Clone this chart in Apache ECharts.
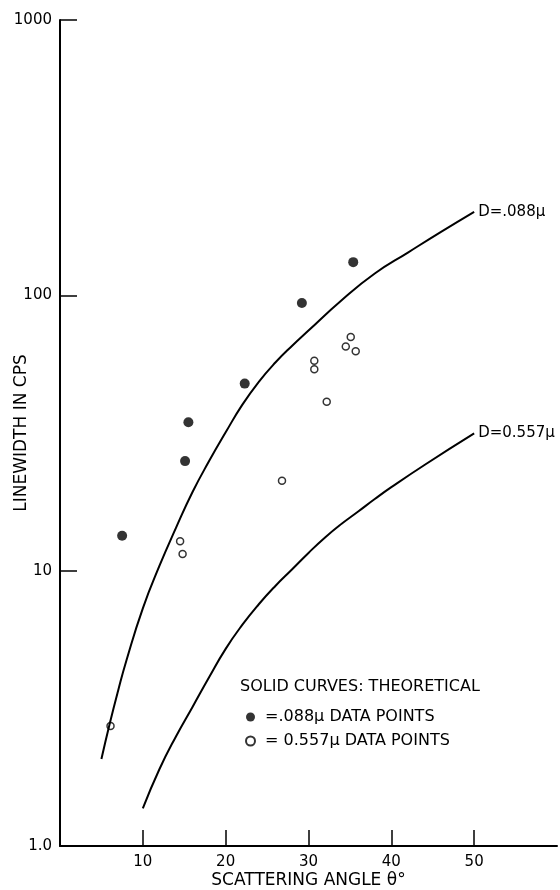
<html>
<head>
<meta charset="utf-8">
<script src="https://cdn.jsdelivr.net/npm/echarts@6/dist/echarts.min.js"></script>
<style>
  body { margin: 0; background: #fff; }
  #main { width: 560px; height: 890px; }
</style>
</head>
<body>
<div id="main"></div>
<script>
// data (angle in degrees, linewidth in cps)
var pts088 = [[7.5, 13.4], [15.1, 25.0], [15.5, 34.6], [22.3, 47.8], [29.2, 93.8], [35.4, 132]];
var pts557 = [[6.1, 2.73], [14.5, 12.8], [14.8, 11.5], [26.8, 21.2], [30.7, 57.9], [30.7, 53.9],
              [32.2, 41.1], [34.5, 65.2], [35.1, 70.6], [35.7, 62.6]];
// theoretical curves, D = .088 micron and D = 0.557 micron
var curve088 = [[5, 2.07], [6, 2.78], [7, 3.65], [8, 4.7], [10, 7.3], [12, 10.4], [14, 14.3],
                [16, 19.3], [18, 25.0], [20, 31.8], [22, 40], [24, 48.5], [26, 57], [28, 65.5],
                [30, 74.5], [34, 96], [38, 120], [42, 143], [46, 170], [50, 201]];
var curve557 = [[10, 1.37], [12, 1.9], [14, 2.5], [16, 3.2], [18, 4.1], [20, 5.2], [22, 6.35],
                [24, 7.55], [26, 8.8], [28, 10.1], [30, 11.6], [32, 13.2], [34, 14.8], [36, 16.4],
                [38, 18.2], [40, 20.1], [44, 24.2], [50, 31.5]];
var xTicks = [10, 20, 30, 40, 50];
var yTicks = [1, 10, 100, 1000];

var font = 'DejaVu Sans';
var myChart = echarts.init(document.getElementById('main'));

var option = {
    animation: false,
    textStyle: { fontFamily: font, color: '#000' },
    grid: { left: 60, right: 3, top: 20, bottom: 44, containLabel: false, outerBoundsMode: 'none' },
    graphic: [{
        type: 'text', left: 240, top: 679,
        style: { text: 'SOLID CURVES: THEORETICAL', font: '16px ' + font, fill: '#000' }
    }],
    legend: {
        data: ['.088μ', '0.557μ'],
        orient: 'vertical', left: 240, top: 703,
        itemWidth: 9, itemHeight: 9, itemGap: 6,
        icon: 'circle',
        textStyle: { fontFamily: font, fontSize: 16, color: '#000', lineHeight: 18 },
        formatter: function (name) {
            return name === '.088μ' ? ' =.088μ DATA POINTS' : ' = 0.557μ DATA POINTS';
        }
    },
    xAxis: {
        type: 'value', min: 0, max: 60, interval: 10,
        name: 'SCATTERING ANGLE θ°', nameLocation: 'middle', nameGap: 26, nameMoveOverlap: false,
        nameTextStyle: { fontFamily: font, fontSize: 17, color: '#000' },
        axisLine: { show: true, lineStyle: { color: '#000', width: 2 } },
        axisTick: { show: true, inside: true, length: 16, customValues: xTicks,
                    lineStyle: { color: '#000', width: 1.5 } },
        axisLabel: { customValues: xTicks, fontFamily: font, fontSize: 15, color: '#000', margin: 9 },
        splitLine: { show: false }
    },
    yAxis: {
        type: 'log', logBase: 10, min: 1, max: 1000,
        name: 'LINEWIDTH IN CPS', nameLocation: 'middle', nameGap: 30, nameMoveOverlap: false,
        nameTextStyle: { fontFamily: font, fontSize: 17, color: '#000' },
        axisLine: { show: true, lineStyle: { color: '#000', width: 2 } },
        axisTick: { show: true, inside: true, length: 17, customValues: yTicks,
                    lineStyle: { color: '#000', width: 1.5 } },
        axisLabel: {
            customValues: yTicks, fontFamily: font, fontSize: 15, color: '#000', margin: 8,
            formatter: function (v) { return v === 1 ? '1.0' : String(v); }
        },
        splitLine: { show: false }
    },
    series: [
        {
            name: 'D=.088μ', type: 'line', data: curve088, smooth: 0.5,
            showSymbol: false, lineStyle: { color: '#000', width: 2 },
            endLabel: { show: true, formatter: 'D=.088μ', fontFamily: font, fontSize: 15, color: '#000', distance: 4 }
        },
        {
            name: 'D=0.557μ', type: 'line', data: curve557, smooth: 0.5,
            showSymbol: false, lineStyle: { color: '#000', width: 2 },
            endLabel: { show: true, formatter: 'D=0.557μ', fontFamily: font, fontSize: 15, color: '#000', distance: 4 }
        },
        {
            name: '.088μ', type: 'scatter', data: pts088, symbol: 'circle', symbolSize: 10,
            itemStyle: { color: '#000' }
        },
        {
            name: '0.557μ', type: 'scatter', data: pts557, symbol: 'circle', symbolSize: 7,
            itemStyle: { color: '#fff', borderColor: '#000', borderWidth: 1.5 }
        }
    ]
};
myChart.setOption(option);
</script>
</body>
</html>
